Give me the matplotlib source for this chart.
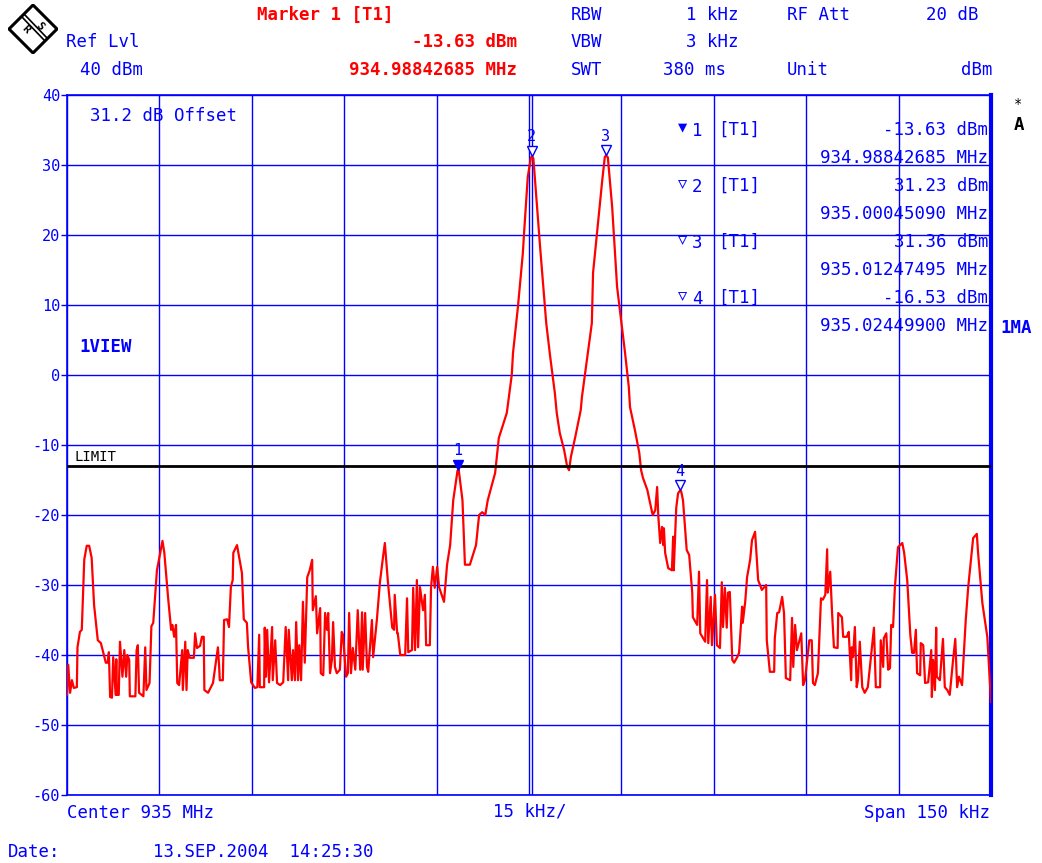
import matplotlib
matplotlib.use("Agg")
import matplotlib.pyplot as plt
from matplotlib.patches import Polygon
from matplotlib.transforms import offset_copy

# --- data ------------------------------------------------------------------
center_mhz = 935.0
span_khz = 150.0
ref_level = 40.0
limit_dbm = -13.0

# trace: offset from center [kHz] and level [dBm]
freq_khz = [
    -75.0, -74.8, -74.5, -74.2, -73.9, -73.4, -73.3, -72.9, -72.6, -72.2, -71.8, -71.4, -71.0, -70.6,
    -70.0, -69.5, -68.7, -68.4, -68.2, -68.0, -67.7, -67.5, -67.1, -67.0, -66.9, -66.6, -66.4, -66.0,
    -65.7, -65.4, -65.2, -64.9, -64.8, -63.9, -63.7, -63.5, -63.3, -62.6, -62.3, -62.1, -61.6, -61.3,
    -61.0, -60.4, -59.5, -59.2, -58.6, -58.1, -57.9, -57.6, -57.3, -57.1, -56.8, -56.3, -56.2, -55.8,
    -55.6, -55.4, -55.1, -54.4, -54.2, -53.9, -53.4, -53.1, -52.8, -52.7, -52.1, -51.3, -50.5, -50.3,
    -50.2, -49.7, -49.5, -49.0, -48.7, -48.4, -48.1, -48.0, -47.4, -46.6, -46.3, -45.8, -45.6, -45.1,
    -44.5, -44.1, -43.8, -43.7, -43.0, -42.9, -42.7, -42.5, -42.2, -41.7, -41.6, -41.2, -40.9, -40.4,
    -39.9, -39.5, -39.1, -39.0, -38.5, -38.3, -38.0, -37.8, -37.5, -37.3, -37.0, -36.7, -36.4, -36.0,
    -35.6, -35.2, -35.1, -34.6, -34.4, -33.9, -33.8, -33.4, -33.1, -32.8, -32.6, -32.3, -32.0, -31.8,
    -31.5, -31.2, -30.7, -30.4, -30.2, -29.7, -29.4, -29.2, -28.9, -28.6, -28.2, -27.8, -27.4, -27.1,
    -27.0, -26.6, -26.3, -26.1, -25.5, -25.3, -24.7, -24.2, -23.7, -23.4, -22.9, -22.2, -21.9, -21.8,
    -21.4, -21.3, -20.9, -20.1, -19.8, -19.6, -19.0, -18.8, -18.5, -18.2, -18.0, -17.7, -17.2, -16.9,
    -16.7, -16.1, -15.9, -15.6, -15.3, -14.9, -14.6, -13.8, -13.3, -12.8, -12.3, -11.6, -11.4, -10.8,
    -10.4, -9.6, -9.1, -8.6, -8.1, -7.6, -7.1, -6.7, -5.5, -4.9, -3.6, -2.8, -2.6, -1.8,
    -1.0, -0.8, -0.2, 0.3, 0.45, 0.7, 1.0, 1.8, 2.6, 2.8, 3.4, 4.2, 4.5, 5.0,
    5.7, 6.2, 6.5, 6.8, 7.5, 8.4, 8.6, 9.4, 10.2, 10.4, 11.2, 11.9, 12.3, 12.47,
    12.8, 13.5, 14.0, 14.3, 14.8, 15.6, 16.2, 16.4, 17.2, 17.9, 18.2, 18.5, 19.2, 20.0,
    20.1, 20.5, 20.8, 21.0, 21.3, 21.6, 21.8, 21.9, 22.1, 22.6, 23.2, 23.4, 23.5, 23.9,
    24.2, 24.5, 24.7, 25.0, 25.6, 26.0, 26.5, 26.6, 27.3, 27.6, 27.8, 28.6, 28.9, 29.1,
    29.5, 29.7, 30.2, 30.5, 31.0, 31.3, 31.5, 31.8, 32.1, 32.3, 32.6, 33.0, 33.3, 33.8,
    34.1, 34.6, 34.7, 35.1, 35.4, 35.9, 36.2, 36.7, 37.2, 37.8, 38.5, 38.6, 39.1, 39.8,
    39.9, 40.3, 40.6, 41.1, 41.4, 41.7, 42.4, 42.7, 42.9, 43.2, 43.5, 44.2, 44.5, 44.8,
    45.5, 45.9, 46.1, 46.4, 46.9, 47.4, 47.7, 48.1, 48.4, 48.5, 48.9, 49.2, 49.5, 50.1,
    50.2, 50.8, 51.0, 51.6, 51.9, 52.3, 52.4, 52.6, 52.9, 53.2, 53.4, 53.7, 54.1, 54.5,
    55.0, 55.7, 56.0, 56.3, 57.0, 57.1, 57.5, 57.6, 58.0, 58.3, 58.6, 58.8, 59.1, 59.4,
    59.9, 60.6, 60.9, 61.4, 61.9, 62.2, 62.5, 62.8, 63.0, 63.5, 63.6, 64.0, 64.3, 64.8,
    65.3, 65.4, 65.6, 65.9, 66.1, 66.2, 66.7, 67.2, 67.5, 67.9, 68.3, 68.8, 69.2, 69.5,
    69.8, 70.3, 70.9, 71.3, 72.1, 72.7, 72.9, 73.6, 74.4, 74.7, 75.0,
]
level_dbm = [
    -45.7, -41.4, -45.4, -43.6, -44.7, -44.6, -38.9, -36.7, -36.4, -26.4, -24.4, -24.4, -26.1, -32.9,
    -37.9, -38.3, -41.1, -41.1, -39.6, -46.0, -46.1, -40.3, -45.7, -40.6, -45.7, -45.7, -38.1, -43.1,
    -39.3, -43.1, -40.0, -40.7, -45.9, -45.9, -39.3, -38.6, -45.4, -45.9, -38.9, -45.0, -44.0, -35.9,
    -35.4, -27.9, -23.7, -25.4, -31.7, -36.4, -35.7, -37.4, -35.7, -44.0, -44.3, -39.3, -45.0, -38.1,
    -45.0, -39.3, -40.4, -40.4, -36.9, -39.0, -38.7, -37.4, -37.4, -45.0, -45.4, -44.0, -38.9, -41.7,
    -43.6, -43.6, -35.0, -34.9, -36.0, -30.3, -29.3, -25.4, -24.3, -28.3, -34.9, -35.4, -38.9, -43.9,
    -44.7, -44.6, -37.1, -44.6, -44.6, -36.1, -43.1, -36.4, -43.9, -36.0, -43.6, -37.9, -44.0, -44.3,
    -43.9, -36.0, -43.6, -36.4, -43.6, -39.3, -43.6, -35.3, -43.6, -38.6, -43.6, -32.4, -41.1, -28.9,
    -27.9, -26.4, -33.6, -31.6, -36.9, -33.3, -42.6, -42.9, -34.0, -36.4, -34.0, -42.6, -40.7, -35.3,
    -41.7, -42.6, -42.1, -36.7, -37.1, -43.1, -42.6, -34.0, -42.6, -39.0, -42.1, -33.6, -42.1, -33.9,
    -42.1, -34.0, -41.7, -42.4, -35.0, -40.3, -35.0, -29.6, -26.0, -24.0, -29.6, -36.1, -36.4, -31.4,
    -36.9, -36.9, -40.0, -40.0, -31.9, -39.6, -39.3, -30.4, -39.3, -29.3, -38.9, -30.3, -33.6, -31.4,
    -38.6, -38.6, -30.3, -27.4, -30.4, -27.4, -30.3, -32.4, -27.1, -24.3, -17.9, -13.63, -13.6, -17.9,
    -27.1, -27.1, -25.7, -24.3, -20.0, -19.6, -20.0, -17.9, -14.0, -9.0, -5.4, 0.0, 3.1, 9.7,
    17.4, 20.3, 28.3, 31.0, 31.23, 31.0, 27.6, 18.3, 9.7, 7.4, 2.9, -2.6, -5.4, -8.3,
    -10.7, -13.1, -13.6, -11.7, -8.9, -5.0, -3.1, 2.1, 7.4, 14.6, 21.7, 27.9, 31.1, 31.36,
    31.1, 24.0, 16.9, 12.6, 8.9, 3.1, -1.7, -4.6, -7.9, -11.1, -13.6, -14.7, -16.4, -19.7,
    -20.0, -19.3, -16.0, -20.3, -24.0, -21.7, -24.3, -21.9, -25.4, -27.6, -27.9, -23.1, -27.9, -19.0,
    -16.9, -16.53, -16.6, -17.9, -25.0, -25.7, -31.1, -34.6, -35.7, -28.1, -36.9, -38.1, -29.3, -38.3,
    -31.7, -38.6, -31.4, -38.6, -39.0, -29.6, -36.0, -30.4, -36.1, -31.1, -31.0, -40.7, -41.1, -40.3,
    -39.7, -33.1, -35.4, -32.4, -28.9, -26.4, -23.6, -22.4, -29.3, -30.7, -30.0, -37.9, -42.4, -42.4,
    -37.6, -34.0, -33.9, -31.7, -34.0, -43.3, -43.6, -34.7, -41.7, -35.7, -39.3, -36.9, -44.3, -43.6,
    -37.9, -37.9, -44.0, -44.3, -42.6, -31.9, -32.1, -31.4, -24.9, -31.1, -28.1, -34.0, -38.9, -39.0,
    -34.0, -34.6, -37.4, -37.4, -36.7, -43.6, -38.9, -40.3, -36.0, -44.6, -43.6, -38.1, -44.6, -45.4,
    -44.6, -38.6, -36.1, -44.6, -44.6, -37.9, -41.7, -37.6, -36.9, -42.1, -41.9, -35.7, -36.0, -30.3,
    -24.6, -24.0, -25.4, -29.3, -37.1, -39.7, -39.7, -36.4, -42.6, -42.9, -38.3, -38.6, -44.0, -43.9,
    -39.3, -46.0, -40.7, -45.0, -36.1, -43.1, -43.6, -37.7, -44.6, -45.0, -45.7, -41.1, -37.7, -44.6,
    -43.1, -44.3, -35.0, -30.3, -23.3, -22.7, -25.4, -32.6, -37.4, -42.1, -46.7,
]

marker_freq_mhz = [934.98842685, 935.00045090, 935.01247495, 935.02449900]
marker_level = [-13.63, 31.23, 31.36, -16.53]
marker_freq_text = ["934.98842685", "935.00045090", "935.01247495", "935.02449900"]

y_ticks = [40, 30, 20, 10, 0, -10, -20, -30, -40, -50, -60]

# --- figure -----------------------------------------------------------------
W, H = 1042, 863
BLUE = "#0000ff"
RED = "#ff0000"
FONT = "DejaVu Sans Mono"
FS = 12.5

fig = plt.figure(figsize=(W / 100, H / 100), dpi=100)
fig.patch.set_facecolor("white")


def px(x, y):
    return x / W, 1 - y / H


def ftext(x, y, s, color=BLUE, ha="left", size=FS, weight="normal"):
    fig.text(*px(x, y), s, color=color, ha=ha, va="center", fontsize=size,
             family=FONT, fontweight=weight)


ax = fig.add_axes([67 / W, 1 - 795 / H, 924 / W, 700 / H])
ax.plot(freq_khz, level_dbm, color=RED, lw=1.6, zorder=4)
ax.set_xlim(-span_khz / 2, span_khz / 2)
ax.set_ylim(ref_level - 100, ref_level)

ax.set_xticks([-span_khz / 2 + i * span_khz / 10 for i in range(11)])
ax.set_xticklabels([])
ax.set_yticks(y_ticks)
ax.set_yticklabels([str(t) for t in y_ticks], family=FONT, fontsize=11, color=BLUE)
ax.tick_params(axis="x", length=0)
ax.tick_params(axis="y", length=4, width=1, color=BLUE, pad=1)
ax.grid(True, color=BLUE, lw=1)
for side, sp in ax.spines.items():
    sp.set_color(BLUE)
    sp.set_linewidth(1.2)
ax.spines["right"].set_linewidth(3)

# limit line + marker frequency line
ax.axhline(limit_dbm, color="black", lw=2, zorder=5)
ax.text(-73.8, limit_dbm + 1.3, "LIMIT", color="black", fontsize=10, family=FONT,
        va="center", ha="left", zorder=6)
ax.axvline((marker_freq_mhz[1] - center_mhz) * 1000, color=BLUE, lw=1, zorder=2)

# markers
tri = offset_copy(ax.transData, fig=fig, x=0, y=4, units="points")
for i, (f, lv) in enumerate(zip(marker_freq_mhz, marker_level)):
    fk = (f - center_mhz) * 1000
    ax.plot(fk, lv, marker="v", ms=7, mec=BLUE, mew=1,
            mfc=BLUE if i == 0 else "white", transform=tri, zorder=7, clip_on=False)
    ax.annotate(str(i + 1), (fk, lv), xytext=(0, 14), textcoords="offset points",
                ha="center", va="center", color=BLUE, fontsize=11, family=FONT, zorder=7)

ax.text(0.025, 0.97, "31.2 dB Offset", transform=ax.transAxes, color=BLUE,
        fontsize=FS, family=FONT, va="center")
ax.text(0.013, 0.64, "1VIEW", transform=ax.transAxes, color=BLUE, fontsize=FS,
        family=FONT, fontweight="bold", va="center")

# marker table
for i in range(4):
    y0 = 130 + i * 56
    sym = "\u25bc" if i == 0 else "\u25bd"
    ftext(678, y0 - 3, sym, size=11)
    ftext(692, y0 + 1, str(i + 1))
    ftext(718, y0, "[T1]")
    ftext(988, y0, f"{marker_level[i]:.2f} dBm", ha="right")
    ftext(988, y0 + 28, f"{marker_freq_text[i]} MHz", ha="right")

# header
ftext(257, 15, "Marker 1 [T1]", color=RED, weight="bold")
ftext(517, 42, f"{marker_level[0]:.2f} dBm", color=RED, ha="right", weight="bold")
ftext(517, 70, f"{marker_freq_text[0]} MHz", color=RED, ha="right", weight="bold")
ftext(66, 42, "Ref Lvl")
ftext(80, 70, f"{ref_level:.0f} dBm")
ftext(571, 15, "RBW")
ftext(738, 15, "1 kHz", ha="right")
ftext(787, 15, "RF Att")
ftext(979, 15, "20 dB", ha="right")
ftext(571, 42, "VBW")
ftext(738, 42, "3 kHz", ha="right")
ftext(571, 70, "SWT")
ftext(726, 70, "380 ms", ha="right")
ftext(787, 70, "Unit")
ftext(993, 70, "dBm", ha="right")

# right side indicators
ftext(1018, 104, "*", color="black", ha="center", size=10)
ftext(1019, 125, "A", color="black", ha="center", weight="bold")
ftext(1000, 328, "1MA", weight="bold")

# footer
ftext(67, 813, f"Center {center_mhz:.0f} MHz")
ftext(530, 811, f"{span_khz / 10:.0f} kHz/", ha="center")
ftext(990, 813, f"Span {span_khz:.0f} kHz", ha="right")
ftext(8, 852, "Date:")
ftext(153, 852, "13.SEP.2004  14:25:30")

# R&S logo
lg = fig.add_axes([8 / W, 1 - 54 / H, 50 / W, 50 / H])
lg.set_xlim(0, 1)
lg.set_ylim(0, 1)
lg.axis("off")
lg.add_patch(Polygon([[0.5, 0.98], [0.98, 0.5], [0.5, 0.02], [0.02, 0.5]],
                     closed=True, fill=False, ec="black", lw=2.2))
lg.plot([0.27, 0.73], [0.75, 0.27], color="black", lw=1.2)
lg.plot([0.33, 0.79], [0.79, 0.31], color="black", lw=1.2)
lg.text(0.36, 0.5, "R", rotation=-45, ha="center", va="center", fontsize=8,
        family=FONT, fontweight="bold")
lg.text(0.64, 0.56, "S", rotation=-45, ha="center", va="center", fontsize=8,
        family=FONT, fontweight="bold")

fig.savefig("out.png", dpi=100)
